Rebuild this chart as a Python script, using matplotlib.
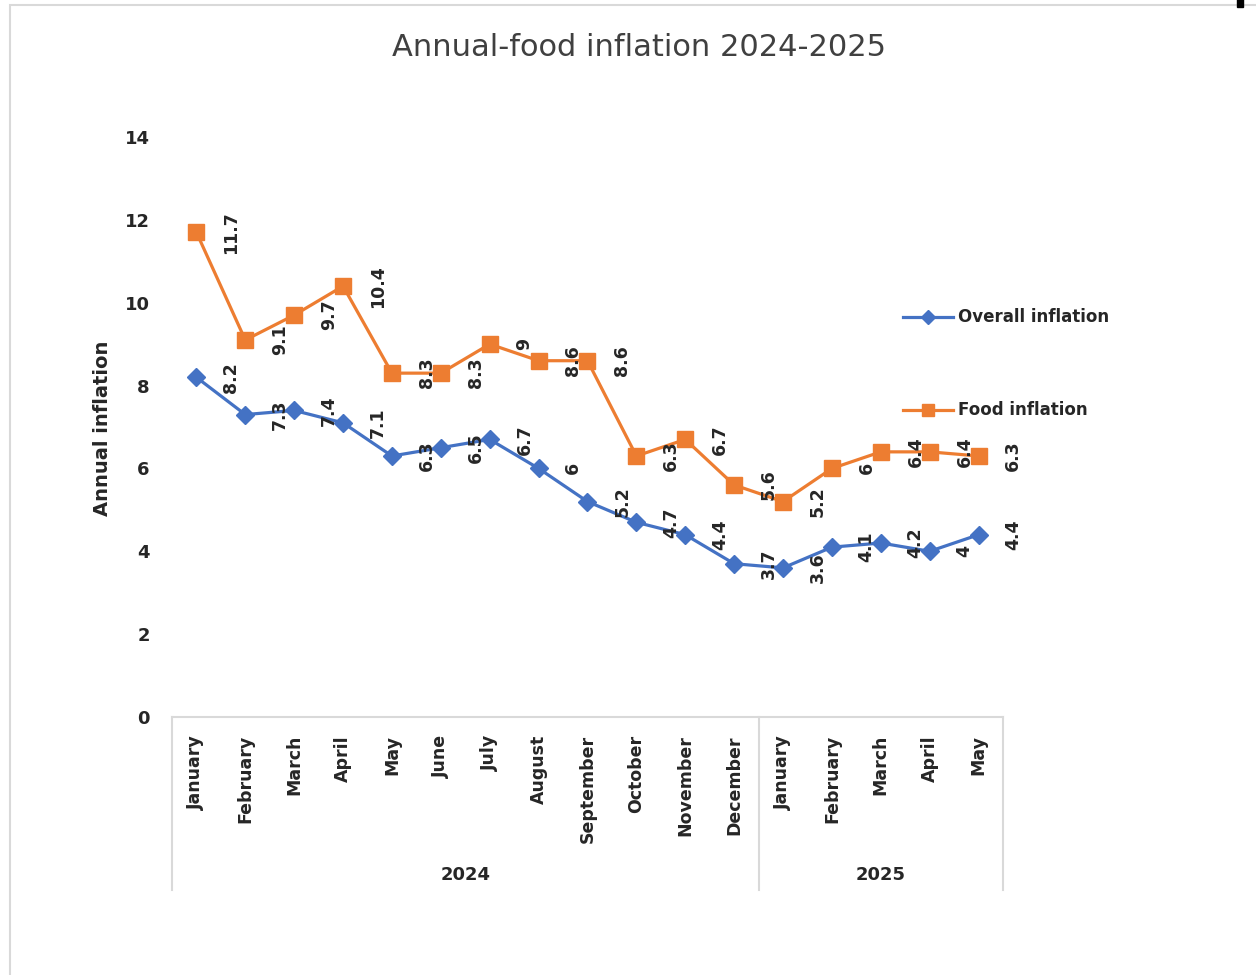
import matplotlib.pyplot as plt
from matplotlib.patches import Rectangle

months = ['January', 'February', 'March', 'April', 'May', 'June', 'July',
          'August', 'September', 'October', 'November', 'December',
          'January', 'February', 'March', 'April', 'May']
years = ['2024', '2025']
year_counts = [12, 5]

overall = [8.2, 7.3, 7.4, 7.1, 6.3, 6.5, 6.7, 6, 5.2, 4.7, 4.4, 3.7,
           3.6, 4.1, 4.2, 4, 4.4]
food = [11.7, 9.1, 9.7, 10.4, 8.3, 8.3, 9, 8.6, 8.6, 6.3, 6.7, 5.6,
        5.2, 6, 6.4, 6.4, 6.3]

blue = '#4472C4'
orange = '#ED7D31'
txt = '#262626'

fig = plt.figure(figsize=(12.56, 9.75), dpi=100)
ax = fig.add_axes([0.1369, 0.2646, 0.6617, 0.5949])

x = list(range(len(months)))
ax.plot(x, overall, color=blue, lw=2.3, marker='D', ms=9.5, label='Overall inflation')
ax.plot(x, food, color=orange, lw=2.3, marker='s', ms=11, label='Food inflation')

for series in (overall, food):
    for i, v in enumerate(series):
        ax.annotate(f'{v:g}', (i, v), xytext=(25, 0), textcoords='offset points',
                    rotation=90, ha='center', va='center', fontsize=12.5,
                    fontweight='bold', color=txt)

ax.set_xlim(-0.5, len(months) - 0.5)
ax.set_ylim(0, 14)
ax.set_yticks(range(0, 15, 2))
ax.tick_params(axis='y', length=0, pad=16, labelsize=13, labelcolor=txt)
for lab in ax.get_yticklabels():
    lab.set_fontweight('bold')

ax.set_xticks(x)
ax.set_xticklabels(months, rotation=90, fontsize=12.5, fontweight='bold', color=txt)
ax.tick_params(axis='x', length=0, pad=13)

for s in ['top', 'right', 'left']:
    ax.spines[s].set_visible(False)
ax.spines['bottom'].set_color('#D9D9D9')
ax.spines['bottom'].set_linewidth(1.5)

# year group separators and labels
trans = ax.get_xaxis_transform()
start = 0
bounds = [-0.5]
for yr, n in zip(years, year_counts):
    ax.text(start + (n - 1) / 2, -0.273, yr, transform=trans, ha='center', va='center',
            fontsize=13, fontweight='bold', color=txt)
    start += n
    bounds.append(start - 0.5)
for b in bounds:
    ax.plot([b, b], [0, -0.298], transform=trans, color='#D9D9D9', lw=1.5, clip_on=False)

fig.text(0.082, 0.561, 'Annual inflation', rotation=90, ha='center', va='center',
         fontsize=14, fontweight='bold', color=txt)

fig.text(0.509, 0.951, 'Annual-food inflation 2024-2025', ha='center', va='center',
         fontsize=22, color='#404040')

fig.legend(loc='upper left', bbox_to_anchor=(0.707, 0.699), frameon=False,
           labelspacing=4.5, handlelength=3.0, handletextpad=0.3, markerscale=0.75,
           prop={'size': 12, 'weight': 'bold'}, labelcolor=txt)

# chart border
fig.patches.append(Rectangle((0.008, -0.1), 1.1, 1.095, transform=fig.transFigure,
                             fill=False, edgecolor='#D9D9D9', lw=1.5))
fig.patches.append(Rectangle((0.985, 0.993), 0.005, 0.01, transform=fig.transFigure,
                             color='black'))

fig.savefig('out.png', dpi=100)
